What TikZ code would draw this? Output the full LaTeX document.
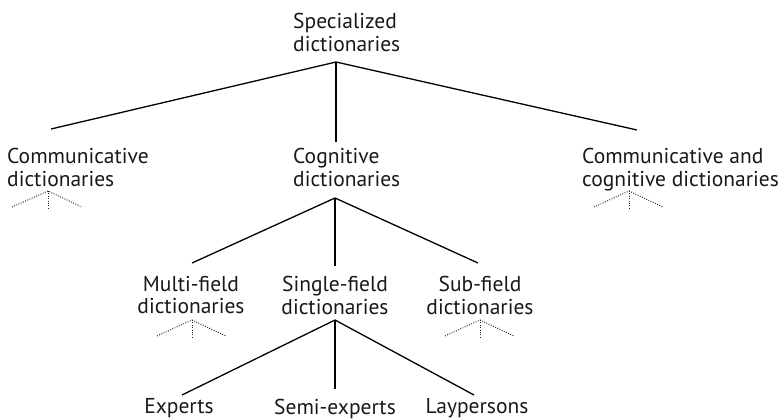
\documentclass[tikz,border=0pt]{standalone}
\usepackage{fontspec}
\setmainfont{PT Sans}
\usetikzlibrary{calc}
\begin{document}
\begin{tikzpicture}[x=1pt,y=-1pt,
  lbl/.style={font=\fontsize{21.5}{22.5}\selectfont, inner sep=0pt, text=black!90},
  lblL/.style={lbl, align=left, anchor=north west},
  lblC/.style={lbl, align=center, anchor=north},
  conn/.style={line width=1.3pt, black},
  dotl/.style={line width=0.95pt, black!90, dash pattern=on 0.9pt off 1.5pt}]
\useasboundingbox (0,0) rectangle (779,420);
% nodes
\node[lblL] (spec) at (293,13) {Specialized\\dictionaries};
\node[lblL] (comm) at (7,148) {Communicative\\dictionaries};
\node[lblL] (cog) at (293,148) {Cognitive\\dictionaries};
\node[lblL] (cc) at (582,148) {Communicative and\\cognitive dictionaries};
\node[lblC] (multi) at (191,276) {Multi-field\\dictionaries};
\node[lblC] (single) at (335,276) {Single-field\\dictionaries};
\node[lblC] (sub) at (480,276) {Sub-field\\dictionaries};
\node[lblC] (exp) at (179,398.5) {Experts};
\node[lblC] (semi) at (335,398.5) {Semi-experts};
\node[lblC] (lay) at (477,398.5) {Laypersons};
% connector points
\coordinate (s0) at (336,62);
\coordinate (s1) at (51,129);
\coordinate (s2) at (336,142);
\coordinate (s3) at (637,130);
\coordinate (c0) at (335,198);
\coordinate (c1) at (192,263);
\coordinate (c2) at (335,266);
\coordinate (c3) at (478,263);
\coordinate (g0) at (335,320);
\coordinate (g1) at (182,395);
\coordinate (g2) at (335,389);
\coordinate (g3) at (474,395);
\draw[conn] (s1) -- (s0) -- (s3);
\draw[conn] (s0) -- (s2);
\draw[conn] (c1) -- (c0) -- (c3);
\draw[conn] (c0) -- (c2);
\draw[conn] (g1) -- (g0) -- (g3);
\draw[conn] (g0) -- (g2);
% dotted stubs
\coordinate (t1) at (48,191);
\draw[dotl] ($(t1)+(-36,16)$) -- (t1) -- ($(t1)+(34,16)$);
\draw[dotl] (t1) -- ++(0,17);
\coordinate (t2) at (192,320);
\draw[dotl] ($(t2)+(-35,16)$) -- (t2) -- ($(t2)+(34,16)$);
\draw[dotl] (t2) -- ++(0,17);
\coordinate (t3) at (480,320);
\draw[dotl] ($(t3)+(-35,16)$) -- (t3) -- ($(t3)+(34,16)$);
\draw[dotl] (t3) -- ++(0,17);
\coordinate (t4) at (629,191);
\draw[dotl] ($(t4)+(-35,16)$) -- (t4) -- ($(t4)+(34,16)$);
\draw[dotl] (t4) -- ++(0,17);
\end{tikzpicture}
\end{document}
